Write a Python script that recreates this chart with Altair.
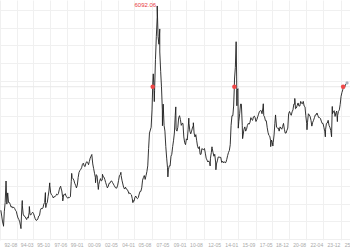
import altair as alt
import pandas as pd

# ---- data (Shanghai Composite) ----
start_1990s = "1992-08"
monthly_1990s = [
    800, 650, 500, 410, 760,
    1000, 1450, 960, 1250, 1000, 1000, 950, 880, 900, 860, 880, 850,
    800, 770, 680, 600, 560, 500, 390, 650, 930, 700, 650, 640,
    600, 560, 620, 600, 750, 690, 680, 720, 750, 720, 650, 580,
    540, 545, 570, 650, 660, 800, 850, 840, 860, 960, 1000, 1000,
    960, 1000, 1150, 1300, 1450, 1250, 1200, 1180, 1120, 1150, 1150, 1180,
    1220, 1200, 1230, 1330, 1400, 1380, 1300, 1130, 1200, 1200, 1230, 1160,
    1140, 1110, 1140, 1130, 1150, 1550, 1650, 1620, 1580, 1500, 1450, 1380,
]
start_2000s = "2000-01"
monthly_2000s = [
    1450, 1650, 1780, 1830, 1860, 1900, 1990, 2020, 1950, 1930, 2020, 2060,
    2040, 1980, 2060, 2150, 2200, 2220, 2000, 1880, 1760, 1650, 1720, 1700,
    1450, 1470, 1550, 1620, 1560, 1580, 1680, 1660, 1600, 1520, 1450, 1380,
    1420, 1500, 1500, 1550, 1560, 1520, 1480, 1440, 1400, 1370, 1380, 1450,
    1570, 1700, 1720, 1700, 1580, 1480, 1390, 1350, 1400, 1350, 1340, 1300,
    1230, 1250, 1220, 1200, 1100, 1050, 1030, 1130, 1170, 1120, 1100, 1130,
    1220, 1290, 1290, 1380, 1580, 1650, 1700, 1600, 1700, 1800, 1950, 2400,
    2800, 2880, 2950, 3400, 4150, 4100, 3900, 4700, 5300, 5800, 5300, 5100,
    4900, 4400, 4000, 3400, 3550, 3000, 2850, 2450, 2150, 1900, 1850, 1950,
    1950, 2200, 2250, 2450, 2600, 2800, 3250, 2900, 2850, 2950, 3200, 3250,
]
start_2010s = "2010-01"
monthly_2010s = [
    3150, 3000, 3050, 3050, 2700, 2550, 2500, 2650, 2620, 2900, 3050, 2850,
    2780, 2850, 2930, 2990, 2800, 2700, 2760, 2600, 2450, 2400, 2450, 2250,
    2250, 2400, 2380, 2370, 2400, 2280, 2150, 2100, 2050, 2080, 2030, 2150,
    2300, 2400, 2300, 2200, 2250, 2050, 2000, 2080, 2180, 2180, 2170, 2170,
    2040, 2070, 2030, 2060, 2030, 2040, 2120, 2220, 2300, 2350, 2500, 3000,
    3250, 3250, 3500, 4200, 4500, 5060, 3900, 3950, 3100, 3300, 3550, 3550,
    3000, 2750, 2900, 2960, 2850, 2900, 3000, 3050, 3030, 3080, 3200, 3150,
    3130, 3220, 3240, 3200, 3100, 3150, 3220, 3290, 3360, 3380, 3380, 3300,
    3450, 3250, 3220, 3120, 3120, 2950, 2820, 2740, 2720, 2600, 2620, 2560,
    2550, 2750, 3050, 3200, 2950, 2930, 2930, 2850, 2960, 2930, 2900, 2970,
]
start_2020s = "2020-01"
monthly_2020s = [
    3050, 2900, 2800, 2800, 2870, 2930, 3300, 3360, 3300, 3260, 3350, 3400,
    3550, 3550, 3430, 3450, 3520, 3580, 3500, 3500, 3620, 3570, 3560, 3620,
    3500, 3480, 3250, 3050, 3080, 3300, 3270, 3230, 3130, 2980, 3080, 3130,
    3200, 3270, 3270, 3320, 3260, 3200, 3200, 3180, 3110, 3050, 3050, 2950,
    2850, 2900, 3050, 3060, 3130, 3000, 2950, 2870, 2800, 3300, 3350, 3380,
    3230, 3330, 3370, 3250, 3360, 3400, 3540, 3750, 3850, 3920, 3980, 3970,
    4050, 4080, 4100,
]
extreme_dates = [
    "1992-11-17", "1993-02-15", "1994-07-29", "1994-09-13", "1995-05-22",
    "1996-12-11", "1996-12-24", "1997-05-12", "1998-06-04", "1998-08-18",
    "1999-06-30", "2001-06-13", "2001-10-22", "2002-01-29", "2002-06-25",
    "2004-04-07", "2005-06-06", "2007-05-09", "2007-05-29", "2007-07-05",
    "2007-10-16", "2008-01-14", "2008-04-18", "2008-10-28", "2009-08-04",
    "2010-11-08", "2011-04-18", "2012-12-03", "2013-02-06", "2013-06-25",
    "2015-04-10", "2015-06-12", "2015-06-30", "2015-07-08", "2015-08-26",
    "2016-01-27", "2018-01-29", "2018-10-18", "2019-01-03", "2019-04-08",
    "2021-02-18", "2022-04-26", "2024-02-05", "2024-09-13", "2024-10-08",
    "2025-04-07", "2025-10-28",
]
extreme_values = [
    386, 1558, 325, 1052, 897,
    1258, 870, 1510, 1422, 1043,
    1756, 2245, 1514, 1339, 1732,
    1783, 998, 4000, 4334, 3615,
    6092.06, 5497, 2990, 1664, 3478,
    3186, 3067, 1949, 2444, 1849,
    4000, 5166, 4277, 3507, 2927,
    2656, 3559, 2449, 2464, 3270,
    3696, 2886, 2702, 2704, 3489,
    3097, 4000,
]
cross_level = 4000
cross_dates = ["2007-05-09", "2015-04-10", "2025-10-28"]
peak_date = "2007-10-16"
peak_value = 6092.06
tick_labels = ["92-08", "94-03", "95-10", "97-06", "99-01", "00-09", "02-05",
               "04-01", "05-08", "07-05", "09-01", "10-08", "12-05", "14-01",
               "15-09", "17-05", "18-12", "20-08", "22-04", "23-12", "25-08"]

# ---- build table ----
rows = []
for start, vals in [(start_1990s, monthly_1990s), (start_2000s, monthly_2000s),
                    (start_2010s, monthly_2010s), (start_2020s, monthly_2020s)]:
    months = pd.date_range(start + "-01", periods=len(vals), freq="MS") + pd.Timedelta(days=14)
    for d, v in zip(months, vals):
        rows.append((d, v))
for d, v in zip(extreme_dates, extreme_values):
    rows.append((pd.Timestamp(d), v))
df = pd.DataFrame(rows, columns=["date", "value"]).sort_values("date")
df = df.drop_duplicates("date").reset_index(drop=True)

cross_df = pd.DataFrame({"date": pd.to_datetime(cross_dates), "value": [cross_level] * len(cross_dates)})
last_df = df.tail(1)
peak_df = pd.DataFrame({"date": [pd.Timestamp(peak_date)], "value": [peak_value],
                        "label": [f"{peak_value:.2f}"]})
level_df = pd.DataFrame({"value": [cross_level]})

# ---- scales / axes ----
H = 240
y_lo, y_hi = 30, 6247
px_per_val = H / (y_hi - y_lo)
grid_y = [y_hi - (10.2 + 17.6 * k) / px_per_val for k in range(14)]

tick_dt = [alt.DateTime(year=(1900 if int(t[:2]) > 50 else 2000) + int(t[:2]), month=int(t[3:]), date=1)
           for t in tick_labels]

xscale = alt.Scale(domain=[alt.DateTime(year=1992, month=7, date=16),
                           alt.DateTime(year=2026, month=6, date=28)])
xaxis = alt.Axis(values=tick_dt, format="%y-%m", title=None, ticks=False, domain=False,
                 grid=True, gridColor="#f0f0f0", gridWidth=1, labelColor="#a8a8a8",
                 labelFontSize=5, labelFont="Liberation Sans", labelPadding=2,
                 labelOffset=10, labelFlush=False, labelOverlap=False)
yscale = alt.Scale(domain=[y_lo, y_hi], nice=False, zero=False)
yaxis = alt.Axis(values=grid_y, labels=False, ticks=False, domain=False, title=None,
                 grid=True, gridColor="#f0f0f0", gridWidth=1)

X = alt.X("date:T", scale=xscale, axis=xaxis)
Y = alt.Y("value:Q", scale=yscale, axis=yaxis)

line = alt.Chart(df).mark_line(color="#1e1e1e", strokeWidth=0.9, clip=True).encode(x=X, y=Y)
level = alt.Chart(level_df).mark_rule(color="#e8e8e8", strokeWidth=1).encode(y=Y)
dots = alt.Chart(cross_df).mark_circle(color="#f04848", size=20, opacity=1).encode(x=X, y=Y)
last = alt.Chart(last_df).mark_circle(color="#a9b1bd", size=10, opacity=1).encode(x=X, y=Y)
peak = alt.Chart(peak_df).mark_text(color="#e8383d", fontSize=6, align="right", dx=-1, dy=-1,
                                    font="Liberation Sans").encode(x=X, y=Y, text="label:N")

chart = alt.layer(level, line, dots, last, peak).properties(
    width=350, height=H,
    padding={"left": 0, "top": 0, "right": 0, "bottom": 10},
    autosize=alt.AutoSizeParams(type="none"),
    background="white"
).configure_view(stroke=None)

chart.save("out.html", embed_options={"renderer": "svg", "actions": False})
